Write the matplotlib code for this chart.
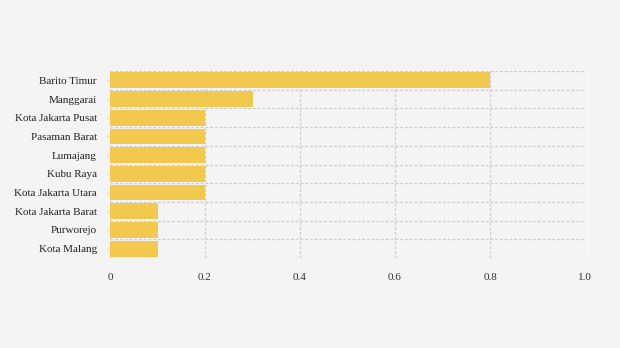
import numpy as np
import matplotlib.pyplot as plt
from matplotlib.ticker import FixedLocator

regions = ["Barito Timur", "Manggarai", "Kota Jakarta Pusat", "Pasaman Barat", "Lumajang",
           "Kubu Raya", "Kota Jakarta Utara", "Kota Jakarta Barat", "Purworejo", "Kota Malang"]
values = [0.8, 0.3, 0.2, 0.2, 0.2, 0.2, 0.2, 0.1, 0.1, 0.1]
x_ticks = [0, 0.2, 0.4, 0.6, 0.8, 1.0]
x_labels = ["0", "0.2", "0.4", "0.6", "0.8", "1.0"]

plt.rcParams['font.family'] = ['Liberation Serif', 'DejaVu Serif']

fig = plt.figure(figsize=(6.2, 3.48), dpi=100, facecolor="#f4f4f4")
ax = fig.add_axes([110 / 620, 1 - 258 / 348, 475 / 620, 187 / 348])
ax.set_facecolor("#f4f4f4")

pos = np.arange(len(regions))
ax.barh(pos, values, height=0.84, color="#f2c84f", zorder=2)

ax.set_xlim(0, 1.0)
ax.set_ylim(len(regions) - 0.5, -0.5)
ax.set_xticks(x_ticks)
ax.set_xticklabels(x_labels)
ax.set_yticks(pos)
ax.set_yticklabels(regions)
# gridlines sit between the bars
ax.yaxis.set_minor_locator(FixedLocator(np.arange(-0.5, len(regions), 1.0)))

for s in ax.spines.values():
    s.set_visible(False)

grid_style = dict(color="#cdcdcd", linestyle=(0, (2.2, 1.6)), linewidth=0.9, zorder=0)
ax.grid(axis="x", which="major", **grid_style)
ax.grid(axis="y", which="minor", **grid_style)
ax.tick_params(axis="x", length=0, pad=11, labelsize=8, labelcolor="#333333")
ax.tick_params(axis="y", which="major", length=3, color="#dddddd", pad=6.5, labelsize=8, labelcolor="#222222")
ax.tick_params(axis="y", which="minor", length=0)

fig.savefig("out.png", dpi=100, facecolor="#f4f4f4")
